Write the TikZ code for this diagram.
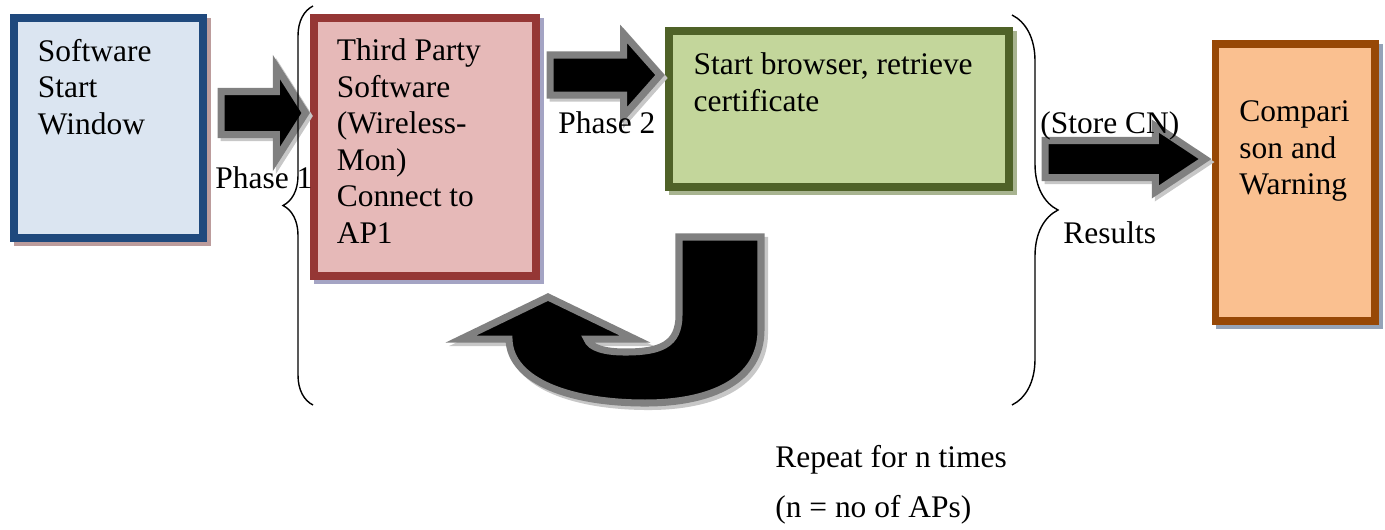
\documentclass[tikz,border=0pt]{standalone}
\usepackage{fontspec}
\setmainfont{Liberation Serif}
\usepackage{tikz}
\usetikzlibrary{positioning,shapes.arrows,decorations.pathreplacing}
\definecolor{winfill}{HTML}{DBE5F1}
\definecolor{windraw}{HTML}{1F497D}
\definecolor{winshade}{HTML}{BC9C9C}
\definecolor{tpfill}{HTML}{E6B9B8}
\definecolor{tpdraw}{HTML}{953735}
\definecolor{tpshade}{HTML}{A4A4C4}
\definecolor{brfill}{HTML}{C3D69B}
\definecolor{brdraw}{HTML}{4F6228}
\definecolor{brshade}{HTML}{A8B490}
\definecolor{cwfill}{HTML}{FAC090}
\definecolor{cwdraw}{HTML}{974806}
\definecolor{cwshade}{HTML}{95A3B8}
\tikzset{
    stepbox/.style = {draw, line width=4.5pt, inner xsep=0.48cm, inner ysep=0.42cm,
                 anchor=north west, font=\fontsize{17.9}{20.8}\selectfont},
    boxshade/.style = {preaction={draw=#1, fill=#1, line width=4.5pt,
                 transform canvas={shift={(0.08cm,-0.08cm)}}}},
    fatarrow/.style = {single arrow, fill=black, draw=gray, line width=4pt,
                 inner xsep=0pt, anchor=tip,
                 preaction={draw=black!22, fill=black!22, line width=4pt,
                 transform canvas={shift={(0.06cm,-0.06cm)}}}},
    bigturn/.style = {fill=black, draw=gray, line width=4pt,
                 preaction={draw=black!22, fill=black!22, line width=4pt,
                 transform canvas={shift={(0.07cm,-0.07cm)}}}},
    lbl/.style = {inner sep=0pt, anchor=base west, font=\fontsize{17.9}{20.8}\selectfont},
    curly/.style = {decorate, decoration={brace, amplitude=#1}, line width=0.8pt},
}
\newcommand{\boxtext}[3]{\parbox[t][#2][t]{#1}{\raggedright #3}}

\begin{document}
\begin{tikzpicture}[x=0.02cm, y=-0.02cm]
\useasboundingbox (0,0) rectangle (1385,529);
\node (sw) [stepbox, fill=winfill, draw=windraw, boxshade=winshade] at (10,14)
    {\boxtext{2.82cm}{3.56cm}{Software\\Start\\Window}};
\node (tp) [stepbox, fill=tpfill, draw=tpdraw, boxshade=tpshade, inner xsep=0.46cm,
    right=2.06cm of sw.north east, anchor=north west]
    {\boxtext{3.52cm}{4.32cm}{Third Party\\Software\\(Wireless-\\Mon)\\Connect to\\AP1}};
\node (br) [stepbox, fill=brfill, draw=brdraw, boxshade=brshade, inner xsep=0.5cm, inner ysep=0.44cm,
    right=2.5cm of tp.north east, anchor=north west, yshift=-0.26cm]
    {\boxtext{5.8cm}{2.24cm}{Start browser, retrieve\\certificate}};
\node (cw) [stepbox, fill=cwfill, draw=cwdraw, boxshade=cwshade, inner ysep=1.14cm,
    right=3.98cm of br.north east, anchor=north west, yshift=-0.26cm]
    {\boxtext{2.24cm}{3.26cm}{Compari\\son and\\Warning}};
\node (ar1) [fatarrow, minimum height=1.69cm, minimum width=1.7cm, inner ysep=0.36cm,
    single arrow head extend=0.49cm, single arrow tip angle=115] at (tp.west |- 0,113) {};
\node (ar2) [fatarrow, minimum height=2.2cm, minimum width=1.5cm, inner ysep=0.33cm,
    single arrow head extend=0.42cm, single arrow tip angle=97] at (br.west |- 0,75) {};
\node (ar3) [fatarrow, minimum height=3.2cm, minimum width=1.18cm, inner ysep=0.3cm,
    single arrow head extend=0.29cm, single arrow tip angle=67] at (cw.west |- 0,159) {};
\draw [bigturn] (679,237) -- (761,237) -- (761,330)
    .. controls (761,380) and (712,403) .. (645,403)
    .. controls (572,403) and (510,382) .. (509,339)
    -- (461,339) -- (548,297) -- (635,339) -- (587,339)
    .. controls (590,348) and (605,352) .. (625,352)
    .. controls (660,352) and (679,345) .. (679,315) -- cycle;
\draw [curly=0.6cm] (313,405) -- (313,6);
\draw [curly=0.92cm] (1012,15) -- (1012,405);
\node (ph1) [lbl] at (215,188) {Phase 1};
\node (ph2) [lbl] at (558,133) {Phase 2};
\node (scn) [lbl] at (1040,133) {(Store CN)};
\node (res) [lbl] at (1063,243) {Results};
\node (rep) [lbl] at (775,467) {Repeat for n times};
\node (nap) [lbl] at (775,517) {(n = no of APs)};
\end{tikzpicture}
\end{document}
